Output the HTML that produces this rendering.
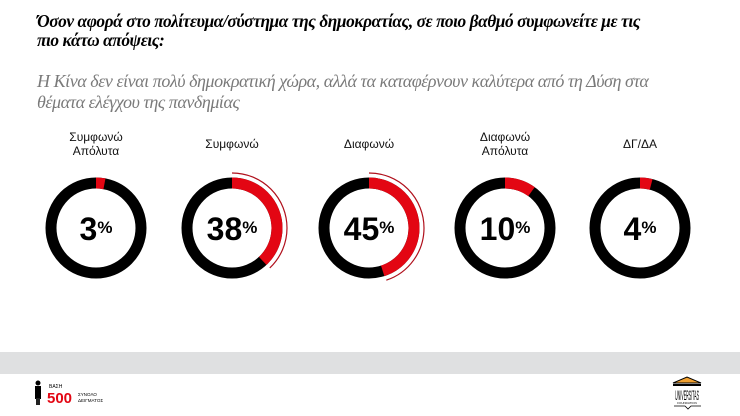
<!DOCTYPE html>
<html><head><meta charset="utf-8"><style>
body{margin:0;width:740px;height:416px;background:#fff;position:relative;overflow:hidden;font-family:"Liberation Sans","DejaVu Sans",sans-serif}
.t{position:absolute;left:37px;font-family:"Liberation Serif",serif;font-style:italic;font-size:18px;line-height:19px;letter-spacing:-0.45px;white-space:nowrap}
.lab{position:absolute;width:120px;text-align:center;font-size:12px;line-height:14px;color:#111}
.band{position:absolute;left:0;top:352px;width:740px;height:22px;background:#dfe0e1}
</style></head><body>
<div class="band"></div>
<div class="t" style="top:12px;font-weight:bold;color:#000;transform:scaleX(0.963);transform-origin:left">Όσον αφορά στο πολίτευμα/σύστημα της δημοκρατίας, σε ποιο βαθμό συμφωνείτε με τις<br>πιο κάτω απόψεις:</div>
<div class="t" style="top:71px;line-height:21px;color:#7a7a7a;font-size:18px">Η Κίνα δεν είναι πολύ δημοκρατική χώρα, αλλά τα καταφέρνουν καλύτερα από τη Δύση στα<br>θέματα ελέγχου της πανδημίας</div>
<div class="lab" style="left:36px;top:130px">Συμφωνώ<br>Απόλυτα</div>
<div class="lab" style="left:172px;top:137px">Συμφωνώ</div>
<div class="lab" style="left:309px;top:137px">Διαφωνώ</div>
<div class="lab" style="left:445px;top:130px">Διαφωνώ<br>Απόλυτα</div>
<div class="lab" style="left:580px;top:137px">ΔΓ/ΔΑ</div>
<svg width="740" height="416" style="position:absolute;left:0;top:0">
<g font-family="Liberation Sans,sans-serif" font-weight="bold" text-anchor="middle">
<g transform="translate(96,228)">
<circle r="45" fill="none" stroke="#000" stroke-width="11"/>
<circle r="45" fill="none" stroke="#e30613" stroke-width="11" stroke-dasharray="8.5 300" transform="rotate(-90)"/>
<text y="12" font-size="32">3<tspan font-size="17" dy="-7">%</tspan></text></g>
<g transform="translate(232,228)">
<circle r="45" fill="none" stroke="#000" stroke-width="11"/>
<circle r="45" fill="none" stroke="#e30613" stroke-width="11" stroke-dasharray="107.4 300" transform="rotate(-90)"/>
<circle r="55" fill="none" stroke="#b0101c" stroke-width="1.2" stroke-dasharray="131 400" transform="rotate(-90)"/>
<text y="12" font-size="32">38<tspan font-size="17" dy="-7">%</tspan></text></g>
<g transform="translate(369,228)">
<circle r="45" fill="none" stroke="#000" stroke-width="11"/>
<circle r="45" fill="none" stroke="#e30613" stroke-width="11" stroke-dasharray="127.2 300" transform="rotate(-90)"/>
<circle r="55" fill="none" stroke="#b0101c" stroke-width="1.2" stroke-dasharray="155 400" transform="rotate(-90)"/>
<text y="12" font-size="32">45<tspan font-size="17" dy="-7">%</tspan></text></g>
<g transform="translate(505,228)">
<circle r="45" fill="none" stroke="#000" stroke-width="11"/>
<circle r="45" fill="none" stroke="#e30613" stroke-width="11" stroke-dasharray="28.3 300" transform="rotate(-90)"/>
<text y="12" font-size="32">10<tspan font-size="17" dy="-7">%</tspan></text></g>
<g transform="translate(640,228)">
<circle r="45" fill="none" stroke="#000" stroke-width="11"/>
<circle r="45" fill="none" stroke="#e30613" stroke-width="11" stroke-dasharray="11.3 300" transform="rotate(-90)"/>
<text y="12" font-size="32">4<tspan font-size="17" dy="-7">%</tspan></text></g>
</g>
<circle cx="38" cy="383" r="2.5" fill="#000"/>
<rect x="35" y="386" width="6" height="13" fill="#000"/>
<rect x="36" y="398" width="4" height="7" fill="#222"/>
<text x="49" y="388" font-size="5" fill="#000">ΒΑΣΗ</text>
<text x="47" y="403" font-size="15" font-weight="bold" fill="#e30613">500</text>
<text x="78" y="396" font-size="4.5" fill="#000">ΣΥΝΟΛΟ</text>
<text x="78" y="402" font-size="4.5" fill="#000">ΔΕΙΓΜΑΤΟΣ</text>
<polygon points="673,383 687,377 701,383" fill="#f0a030" stroke="#000" stroke-width="1"/>
<rect x="673" y="384" width="28" height="2" fill="#000"/>
<text x="687" y="400" font-size="14" text-anchor="middle" textLength="24" lengthAdjust="spacingAndGlyphs">UNIVERSITAS</text>
<text x="687" y="404" font-size="3" text-anchor="middle">FOUNDATION</text>
<path d="M674 406 L685 406 L688 409 L691 406 L701 406" stroke="#000" fill="none" stroke-width="0.8"/>
</svg>
</body></html>
